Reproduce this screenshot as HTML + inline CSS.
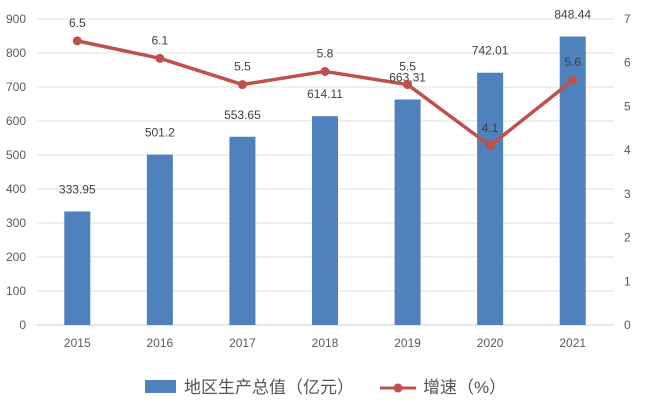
<!DOCTYPE html>
<html><head><meta charset="utf-8"><style>
body{margin:0;background:#fff;}
svg{display:block;font-family:"Liberation Sans","Noto Sans CJK SC",sans-serif;}
</style></head><body>
<svg width="658" height="415">
<g id="grid"></g>
<g id="bars"></g>
<g id="line"></g>
<g id="labels"></g>
<g>
<rect x="145" y="380" width="31" height="13" fill="#4f81bd"/>
<text x="184" y="393" font-size="17" fill="#555">地区生产总值（亿元）</text>
<line x1="380" y1="388" x2="416" y2="388" stroke="#c0504d" stroke-width="3"/>
<circle cx="398" cy="388" r="4.5" fill="#c0504d"/>
<text x="423" y="393" font-size="17" fill="#555">增速（%）</text>
</g>
</svg>
<script>
const years=["2015","2016","2017","2018","2019","2020","2021"];
const gdp=[333.95,501.2,553.65,614.11,663.31,742.01,848.44];
const growth=[6.5,6.1,5.5,5.8,5.5,4.1,5.6];
const leftTicks=[0,100,200,300,400,500,600,700,800,900];
const rightTicks=[0,1,2,3,4,5,6,7];
const NS="http://www.w3.org/2000/svg";
const x0=36,x1=614,yb=325,yt=19;
const yL=v=>yb-(v/900)*(yb-yt);
const yR=v=>yb-(v/7)*(yb-yt);
const band=(x1-x0)/years.length;
const xc=i=>x0+band*(i+0.5);
function mk(tag,attrs,parent){const e=document.createElementNS(NS,tag);for(const k in attrs)e.setAttribute(k,attrs[k]);document.getElementById(parent).appendChild(e);return e;}
leftTicks.forEach(t=>{
 const l=mk('line',{x1:x0,x2:x1,y1:yL(t),y2:yL(t),stroke:t===0?'#d0d0d0':'#e0e0e0','stroke-width':1},'grid');
 
 
 const tx=mk('text',{x:26,y:yL(t)+4,'font-size':12,fill:'#595959','text-anchor':'end'},'labels');
 tx.textContent=t;
 
 
});
rightTicks.forEach(t=>{
 const tx=mk('text',{x:624,y:yR(t)+4,'font-size':12,fill:'#595959'},'labels');
 tx.textContent=t;
 
 
});
years.forEach((y,i)=>{
 const tx=mk('text',{x:xc(i),y:347,'font-size':12,fill:'#595959','text-anchor':'middle'},'labels');
 tx.textContent=y;
 
 
 const b=mk('rect',{x:xc(i)-13,y:yL(gdp[i]),width:26,height:yb-yL(gdp[i]),fill:'#4f81bd'},'bars');
 
 
 const bl=mk('text',{x:xc(i),y:yL(gdp[i])-18,'font-size':12,fill:'#404040','text-anchor':'middle'},'labels');
 bl.textContent=gdp[i];
 
 
});
const pts=growth.map((g,i)=>xc(i)+','+yR(g)).join(' ');
const pl=mk('polyline',{points:pts,fill:'none',stroke:'#c0504d','stroke-width':3.5,'stroke-linejoin':'round'},'line');


growth.forEach((g,i)=>{
 const c=mk('circle',{cx:xc(i),cy:yR(g),r:4.5,fill:'#c0504d'},'line');
 
 
 const t=mk('text',{x:xc(i),y:yR(g)-14,'font-size':12,fill:'#404040','text-anchor':'middle'},'labels');
 t.textContent=g;
 
 
});
</script>
</body></html>
